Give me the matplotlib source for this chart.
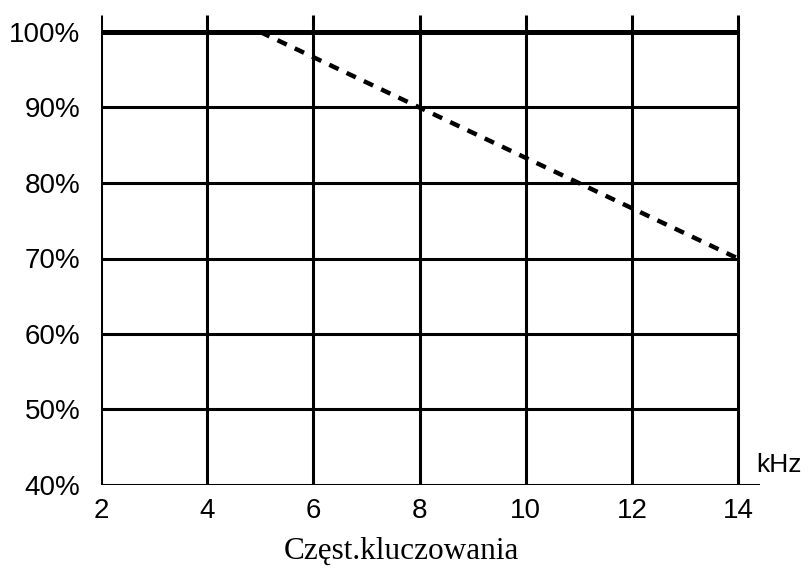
import matplotlib
matplotlib.use('Agg')
import matplotlib.pyplot as plt

# skala osi i etykiety
freq_ticks = [2, 4, 6, 8, 10, 12, 14]
pct_ticks = [40, 50, 60, 70, 80, 90, 100]
pct_labels = ['40%', '50%', '60%', '70%', '80%', '90%', '100%']

# krzywa obciazenia (linia przerywana)
derate_freq = [5, 14]
derate_pct = [100, 70]

# linia 100% (gruba ciagla)
full_freq = [2, 14]
full_pct = [100, 100]

W, H = 809, 571
fig = plt.figure(figsize=(W / 100, H / 100), dpi=100)

x_left, x_right = 101, 760
y_top, y_bot = 15, 485
ax = fig.add_axes([x_left / W, 1 - y_bot / H, (x_right - x_left) / W, (y_bot - y_top) / H])

px_x = (738 - 101) / 12.0
px_y = (485 - 32) / 60.0
xmax = 2 + (x_right - x_left) / px_x
ymax = 40 + (y_bot - y_top) / px_y
ax.set_xlim(2, xmax)
ax.set_ylim(40, ymax)

for s in ax.spines.values():
    s.set_visible(False)

lw = 2.2
ax.vlines(freq_ticks, 40, ymax, color='black', lw=lw)
ax.hlines(pct_ticks[1:-1], 2, 14, color='black', lw=lw)
ax.hlines(40, 2, xmax, color='black', lw=lw)
ax.plot(full_freq, full_pct, color='black', lw=3.6, solid_capstyle='butt')
ax.plot(derate_freq, derate_pct, color='black', lw=3.2, ls=(0, (2.3, 2.0)))

ax.set_xticks(freq_ticks)
ax.set_xticklabels([str(t) for t in freq_ticks], fontsize=20, family='Liberation Sans')
ax.set_yticks(pct_ticks)
ax.set_yticklabels(pct_labels, fontsize=20, family='Liberation Sans')
ax.tick_params(axis='x', length=0, pad=9)
ax.tick_params(axis='y', length=0, pad=15)

fig.text(756 / W, 1 - 465 / H, 'kHz', fontsize=19, family='Liberation Sans', va='center', ha='left')
fig.text(401 / W, 1 - 551 / H, 'Częst.kluczowania', fontsize=22.5, family='Liberation Serif',
         va='center', ha='center')

fig.savefig('out.png', dpi=100)
